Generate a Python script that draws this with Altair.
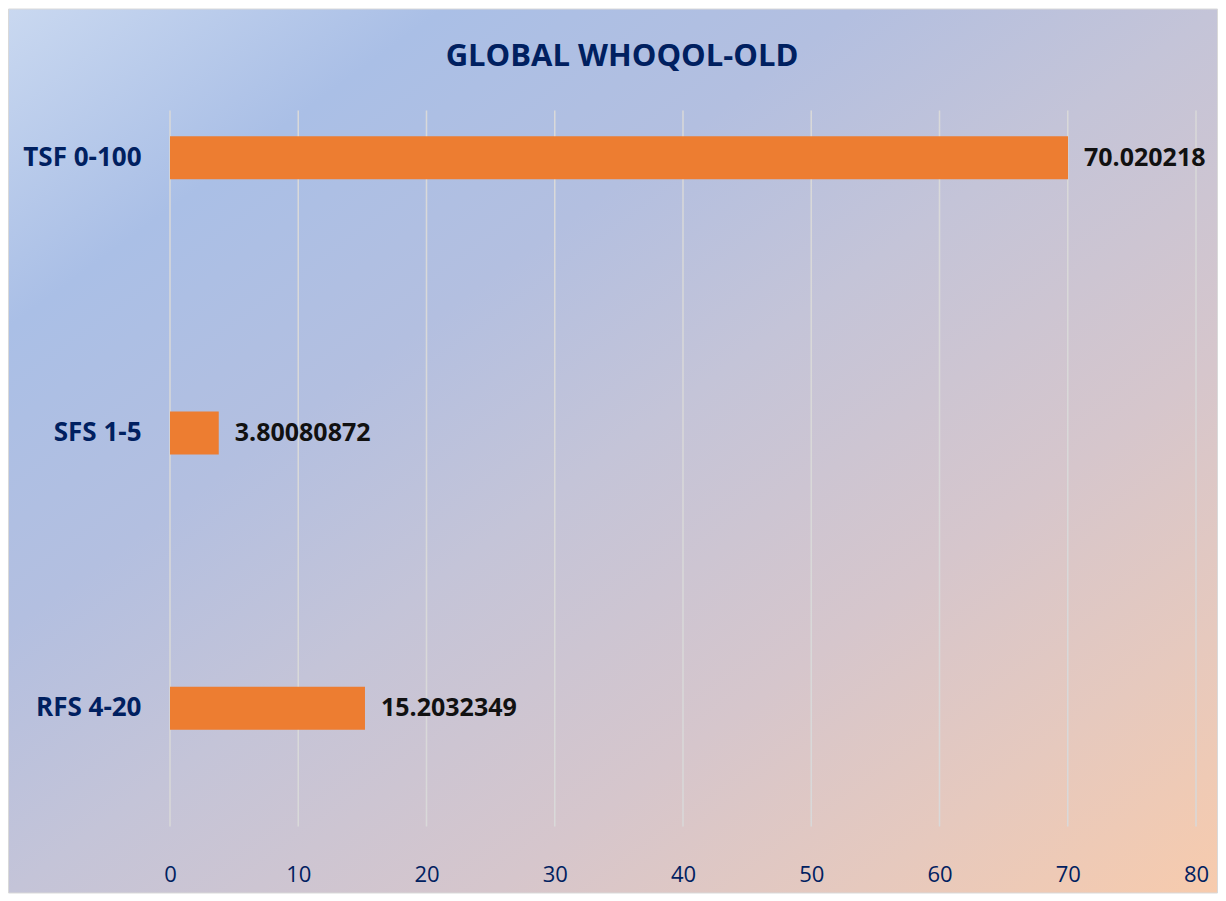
import altair as alt
import pandas as pd

# ---- data ----
categories = ["TSF 0-100", "SFS 1-5", "RFS 4-20"]
values = [70.020218, 3.80080872, 15.2032349]
x_ticks = [0, 10, 20, 30, 40, 50, 60, 70, 80]
title_text = ["GLOBAL WHOQOL-OLD"]

NAVY = "#002060"
FONT = "Open Sans"
PLOT_W = 1026
PLOT_H = 826

df = pd.DataFrame({"category": categories, "value": values,
                   "label": [str(v) for v in values]})
ticks_df = pd.DataFrame({"tick": x_ticks})
title_df = pd.DataFrame({"t": title_text})
one = pd.DataFrame({"a": [0]})

gradient = alt.LinearGradient(
    gradient="linear", x1=0, y1=0, x2=1, y2=1,
    stops=[
        alt.GradientStop(offset=0.0, color="#c9d8f0"),
        alt.GradientStop(offset=0.18, color="#aabfe6"),
        alt.GradientStop(offset=0.35, color="#b3bfe0"),
        alt.GradientStop(offset=0.5, color="#c4c4d8"),
        alt.GradientStop(offset=0.7, color="#d6c6cc"),
        alt.GradientStop(offset=0.85, color="#e6c9be"),
        alt.GradientStop(offset=1.0, color="#f7cbad"),
    ],
)

bg = alt.Chart(one).mark_rect(color=gradient, stroke="#d9d9d9", strokeWidth=1).encode(
    x=alt.value(-161.5), x2=alt.value(1047.5), y=alt.value(-11), y2=alt.value(873)
)

xscale = alt.Scale(domain=[0, 80], nice=False, zero=True)

grid = alt.Chart(ticks_df).mark_rule(color="#d9d9d9", strokeWidth=1.5).encode(
    x=alt.X("tick:Q", scale=xscale),
    y=alt.value(90.5),
    y2=alt.value(806.5),
)

yenc = alt.Y(
    "category:N", sort=categories, title=None,
    scale=alt.Scale(paddingInner=0.844, paddingOuter=0.422),
    axis=alt.Axis(labelFont=FONT, labelFontSize=26, labelFontWeight="bold",
                  labelColor=NAVY, labelPadding=29, ticks=False, domain=False,
                  grid=False, zindex=1),
)

xenc = alt.X(
    "value:Q", scale=xscale, title=None,
    axis=alt.Axis(values=x_ticks, labelFont=FONT, labelFontSize=22,
                  labelColor=NAVY, labelPadding=18, labelFlush=False,
                  ticks=False, domain=False, grid=False, zindex=1),
)

bars = alt.Chart(df).mark_bar(color="#ED7D31").encode(x=xenc, y=yenc)

labels = alt.Chart(df).mark_text(
    align="left", baseline="middle", dx=16, font=FONT, fontSize=25,
    fontWeight="bold", color="#111111"
).encode(x="value:Q", y=alt.Y("category:N", sort=categories), text="label:N")

title = alt.Chart(title_df).mark_text(
    align="center", baseline="middle", font=FONT, fontSize=31,
    fontWeight="bold", color=NAVY
).encode(x=alt.value(452), y=alt.value(37), text="t:N")

chart = alt.layer(bg, grid, bars, labels, title).properties(
    width=PLOT_W, height=PLOT_H, padding=0
).configure_view(stroke=None)

chart.save("out.html", embed_options={"renderer": "svg", "actions": False})
